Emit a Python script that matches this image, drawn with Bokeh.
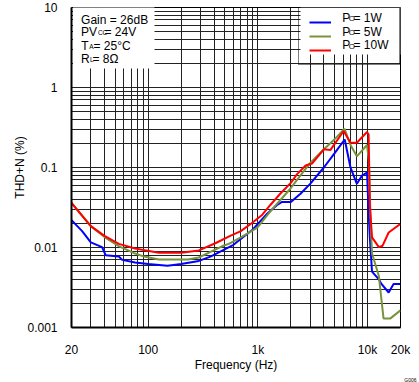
from bokeh.plotting import figure
from bokeh.models import FixedTicker, Legend, LegendItem, Label, BoxAnnotation, Title
from bokeh.embed import file_html
from bokeh.resources import INLINE

# ---- data ----
f_1w = [20, 25, 30, 38, 41, 54, 58, 76, 100, 150, 200, 290, 370, 450, 600, 900, 1200, 1500, 1650, 2000,
        2450, 3000, 4000, 5000, 6200, 7000, 8000, 8900, 9900, 10240, 10500, 11000, 12700, 13400, 15600, 17300, 20000]
thd_1w = [0.022, 0.016, 0.0116, 0.0101, 0.0080, 0.0077, 0.0070, 0.0065, 0.0062, 0.0059, 0.0062, 0.0068, 0.0077,
          0.0088, 0.0108, 0.0168, 0.026, 0.034, 0.037, 0.037, 0.047, 0.0625, 0.10, 0.15, 0.224, 0.10, 0.0625,
          0.079, 0.0865, 0.028, 0.0134, 0.0050, 0.0040, 0.0035, 0.00274, 0.0035, 0.0035]

f_5w = [20, 30, 40, 54, 76, 92, 125, 230, 290, 370, 490, 544, 700, 990, 1300, 1600, 1980, 2440, 3010, 4000,
        4930, 6180, 7000, 8000, 9900, 10300, 10700, 11000, 12700, 14000, 16200, 20000]
thd_5w = [0.036, 0.0185, 0.0135, 0.0104, 0.0084, 0.0077, 0.0071, 0.0071, 0.0075, 0.0088, 0.0106, 0.0111, 0.0134,
          0.0177, 0.0283, 0.039, 0.0543, 0.079, 0.114, 0.169, 0.22, 0.305, 0.191, 0.138, 0.191, 0.12, 0.02,
          0.0084, 0.0044, 0.0013, 0.0013, 0.00164]

f_10w = [20, 30, 40, 54, 76, 125, 200, 290, 410, 560, 700, 890, 1100, 1300, 1600, 2000, 2280, 2730, 3120, 4000,
         4600, 6060, 7000, 8000, 9900, 10240, 10500, 11000, 12700, 13700, 15600, 19200, 20000]
thd_10w = [0.036, 0.0185, 0.014, 0.0111, 0.0097, 0.0086, 0.0086, 0.0092, 0.0113, 0.014, 0.016, 0.0204, 0.0257,
           0.034, 0.047, 0.0643, 0.0826, 0.106, 0.112, 0.169, 0.166, 0.286, 0.204, 0.204, 0.278, 0.26, 0.034,
           0.0134, 0.0101, 0.0105, 0.0154, 0.019, 0.0195]

x_tick_vals = [20, 100, 1000, 10000, 20000]
x_tick_text = ["20", "100", "1k", "10k", "20k"]
y_tick_vals = [0.001, 0.01, 0.1, 1, 10]
y_tick_text = ["0.001", "0.01", "0.1", "1", "10"]

series_labels = ["1W", "5W", "10W"]
series_colors = ["#0000FF", "#77933C", "#FF0000"]

FONT = "Liberation Sans"

# frame geometry on the canvas
FL, FT, FR, FB = 71, 7, 400, 336

p = figure(width=419, height=382, x_axis_type="log", y_axis_type="log",
           x_range=(20, 20000), y_range=(0.001, 10),
           output_backend="svg", toolbar_location=None,
           min_border_left=FL, min_border_right=419 - FR, min_border_top=FT, min_border_bottom=382 - FB)
p.background_fill_color = "white"
p.border_fill_color = "white"
p.outline_line_color = "black"
p.outline_line_width = 1

# grids: every 1..9 x decade
xg = [m * 10 ** e for e in range(1, 5) for m in range(1, 10) if 20 <= m * 10 ** e <= 20000]
yg = [round(m * 10.0 ** e, 6) for e in range(-3, 2) for m in range(1, 10) if m * 10.0 ** e <= 10]
p.xgrid.ticker = FixedTicker(ticks=xg)
p.ygrid.ticker = FixedTicker(ticks=yg)
for g in (p.xgrid, p.ygrid):
    g.grid_line_color = "#222222"
    g.grid_line_width = 1
    g.grid_line_alpha = 1

p.xaxis.ticker = FixedTicker(ticks=x_tick_vals)
p.xaxis.major_label_overrides = dict(zip(x_tick_vals, x_tick_text))
p.yaxis.ticker = FixedTicker(ticks=y_tick_vals)
p.yaxis.major_label_overrides = dict(zip(y_tick_vals, y_tick_text))
p.xaxis.axis_label = "Frequency (Hz)"
p.yaxis.axis_label = "THD+N (%)"
for ax in (p.xaxis, p.yaxis):
    ax.axis_line_color = "black"
    ax.axis_line_width = 2
    ax.major_tick_line_color = None
    ax.minor_tick_line_color = None
    ax.major_label_text_font = FONT
    ax.major_label_text_font_size = "12px"
    ax.major_label_text_color = "black"
    ax.axis_label_text_font = FONT
    ax.axis_label_text_font_size = "12px"
    ax.axis_label_text_font_style = "normal"
    ax.axis_label_text_color = "black"
p.xaxis.major_label_standoff = 9
p.xaxis.axis_label_standoff = -2
p.yaxis.major_label_standoff = 8
p.yaxis.axis_label_standoff = -3

rs = []
for fx, fy, c in zip([f_1w, f_5w, f_10w], [thd_1w, thd_5w, thd_10w], series_colors):
    rs.append(p.line(fx, fy, line_color=c, line_width=2))

# white boxes behind the condition text and the legend
p.add_layout(BoxAnnotation(left=1.5, right=154 - FL, bottom=FB - 77, top=FB - FT - 0.5,
                           left_units="screen", right_units="screen",
                           top_units="screen", bottom_units="screen",
                           fill_color="white", fill_alpha=1, line_color=None, level="annotation"))
p.add_layout(BoxAnnotation(left=300 - FL, right=FR - FL, bottom=FB - 63, top=FB - FT,
                           left_units="screen", right_units="screen",
                           top_units="screen", bottom_units="screen",
                           fill_color="white", fill_alpha=1, line_color=None, level="annotation"))

legend = Legend(items=[LegendItem(label="", renderers=[r]) for r in rs],
                location="top_right", margin=0, padding=10, spacing=6,
                glyph_width=22, glyph_height=8, label_height=8, label_width=58, label_standoff=0,
                label_text_font_size="1px",
                border_line_color="black", border_line_width=1,
                background_fill_alpha=0)
p.add_layout(legend)


def txt(s, px, py, size=12):
    p.add_layout(Label(x=px - FL, y=FB - py, x_units="screen", y_units="screen", text=s,
                       text_font=FONT, text_font_size=f"{size}px", text_color="black",
                       text_align="left", text_baseline="alphabetic", level="overlay"))


# condition text
txt("Gain = 26dB", 80.6, 28.7)
txt("PV", 80.6, 40.6)
txt("CC", 97.4, 41.4, 6.5)
txt(" = 24V", 104, 40.6)
txt("T", 80.8, 54.3)
txt("A", 88.8, 55.0, 6.5)
txt(" = 25°C", 93, 54.3)
txt("R", 80.4, 67.3)
txt("L", 89.6, 68.0, 6.5)
txt(" = 8Ω", 92, 67.3)

# legend text
for i, lab in enumerate(series_labels):
    base = 26.3 + 13.8 * i
    txt("P", 341.8, base)
    txt("O", 348.3, base + 1, 8)
    txt(" = " + lab, 353, base)

p.add_layout(Title(text="G006", align="right", offset=-16, standoff=0,
                   text_font=FONT, text_font_size="5px", text_font_style="normal",
                   text_color="black"), "below")

open("out.html", "w").write(file_html(p, INLINE))
